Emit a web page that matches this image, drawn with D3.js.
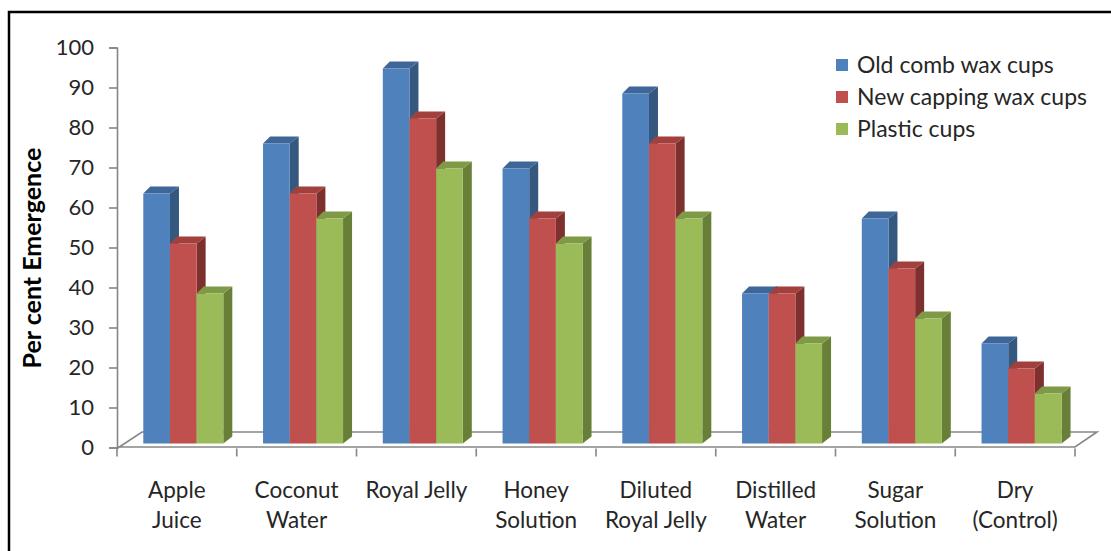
<!DOCTYPE html>
<html>
<head>
<meta charset="utf-8">
<script src="https://cdn.jsdelivr.net/npm/d3@7"></script>
<style>
  html, body { margin: 0; padding: 0; background: #fff; }
  svg { display: block; font-family: Lato, "Open Sans", sans-serif; }
</style>
</head>
<body>
<svg id="chart" width="1111" height="551"></svg>
<script>
// Emergence by grafting medium and cup type
const categories = [
  ["Apple", "Juice"],
  ["Coconut", "Water"],
  ["Royal Jelly"],
  ["Honey", "Solution"],
  ["Diluted", "Royal Jelly"],
  ["Distilled", "Water"],
  ["Sugar", "Solution"],
  ["Dry", "(Control)"]
];
const seriesNames = ["Old comb wax cups", "New capping wax cups", "Plastic cups"];
const oldCombWax    = [62.5, 75, 93.75, 68.75, 87.5, 37.5, 56.25, 25];
const newCappingWax = [50, 62.5, 81.25, 56.25, 75, 37.5, 43.75, 18.75];
const plasticCups   = [37.5, 56.25, 68.75, 50, 56.25, 25, 31.25, 12.5];
const yTicks = [0, 10, 20, 30, 40, 50, 60, 70, 80, 90, 100];
const yTitle = "Per cent Emergence";

const seriesValues = [oldCombWax, newCappingWax, plasticCups];
const palette = [
  { front: "#4F81BD", top: "#3E6699", side: "#35587F" },
  { front: "#C0504D", top: "#A2403D", side: "#7E302E" },
  { front: "#9BBB59", top: "#7E9A46", side: "#687F38" }
];
const textColor = "#262626";

const svg = d3.select("#chart");

// Frame
svg.append("path")
  .attr("d", "M9,551 V12 H1111")
  .attr("fill", "none").attr("stroke", "#000").attr("stroke-width", 2.5);

// Scales
const catKeys = categories.map(c => c.join(" "));
const x = d3.scaleBand().domain(catKeys).range([117, 1075]).padding(0);
const xs = d3.scaleBand().domain(seriesNames).range([0, 80]).padding(0);
const y = d3.scaleLinear().domain([0, 100]).range([447.5, 47.5]);

// 3-D geometry (projection of depth)
const groupShift = 26.3;   // front face starts this far into each band
const lift = 4;            // bars sit slightly behind the front floor edge
const dxR = 9, dxL = 7, dz = 7;
const floorFront = 448.5, floorBack = 432, floorDepthX = 25;

// Floor
const gFloor = svg.append("g").attr("stroke", "#868686").attr("stroke-width", 1.6).attr("fill", "none");
gFloor.append("path")
  .attr("d", `M${x.range()[0]},${floorFront} L${x.range()[0] + floorDepthX},${floorBack} H${x.range()[1] + floorDepthX - 3} L${x.range()[1]},${floorFront - 1.5} H${x.range()[0]}`);

// Value axis
const gy = svg.append("g").attr("transform", "translate(117,0)")
  .call(d3.axisLeft(y).tickValues(yTicks).tickSize(8).tickPadding(15));
gy.select(".domain").attr("stroke", "#868686").attr("stroke-width", 1.6);
gy.selectAll(".tick line").attr("stroke", "#868686").attr("stroke-width", 1.6);
gy.selectAll(".tick text").attr("font-size", 22).attr("fill", textColor)
  .attr("font-family", "Lato, sans-serif");

// Category axis ticks (band boundaries)
const bounds = catKeys.map(k => x(k)).concat([x.range()[1]]);
svg.append("g").selectAll("line").data(bounds).join("line")
  .attr("x1", d => d).attr("x2", d => d)
  .attr("y1", floorFront).attr("y2", floorFront + 8)
  .attr("stroke", "#868686").attr("stroke-width", 1.6);

// Category labels
const gLab = svg.append("g").attr("font-size", 22.5).attr("fill", textColor).attr("text-anchor", "middle");
categories.forEach((lines, i) => {
  const cx = x(catKeys[i]) + x.bandwidth() / 2;
  const t = gLab.append("text").attr("x", cx).attr("y", 498);
  lines.forEach((ln, j) => {
    t.append("tspan").attr("x", cx).attr("y", 498 + j * 30).text(ln);
  });
});

// Bars
const gBars = svg.append("g");
catKeys.forEach((k, i) => {
  seriesNames.forEach((s, j) => {
    const v = seriesValues[j][i];
    const x0 = x(k) + groupShift + xs(s);
    const x1 = x0 + xs.bandwidth();
    const yt = y(v) - lift;
    const yb = y(0) - lift;
    const c = palette[j];
    const g = gBars.append("g");
    g.append("path")
      .attr("d", `M${x1},${yt} L${x1 + dxR},${yt - dz} V${yb - dz} L${x1},${yb} Z`)
      .attr("fill", c.side);
    g.append("path")
      .attr("d", `M${x0},${yt} L${x0 + dxL},${yt - dz} H${x1 + dxR} L${x1},${yt} Z`)
      .attr("fill", c.top);
    g.append("rect")
      .attr("x", x0).attr("y", yt)
      .attr("width", x1 - x0).attr("height", yb - yt)
      .attr("fill", c.front);
  });
});

// Axis title
svg.append("text")
  .attr("transform", "translate(41,258) rotate(-90)")
  .attr("text-anchor", "middle")
  .attr("font-size", 25).attr("font-weight", "bold").attr("fill", "#000")
  .text(yTitle);

// Legend
const legend = svg.append("g").attr("transform", "translate(836,65)");
seriesNames.forEach((s, j) => {
  const row = legend.append("g").attr("transform", `translate(0,${j * 32})`);
  row.append("rect").attr("x", 0).attr("y", -6).attr("width", 12).attr("height", 12)
    .attr("fill", palette[j].front);
  row.append("text").attr("x", 21).attr("y", 0).attr("dy", "0.35em")
    .attr("font-size", 23).attr("fill", textColor).text(s);
});
</script>
</body>
</html>
